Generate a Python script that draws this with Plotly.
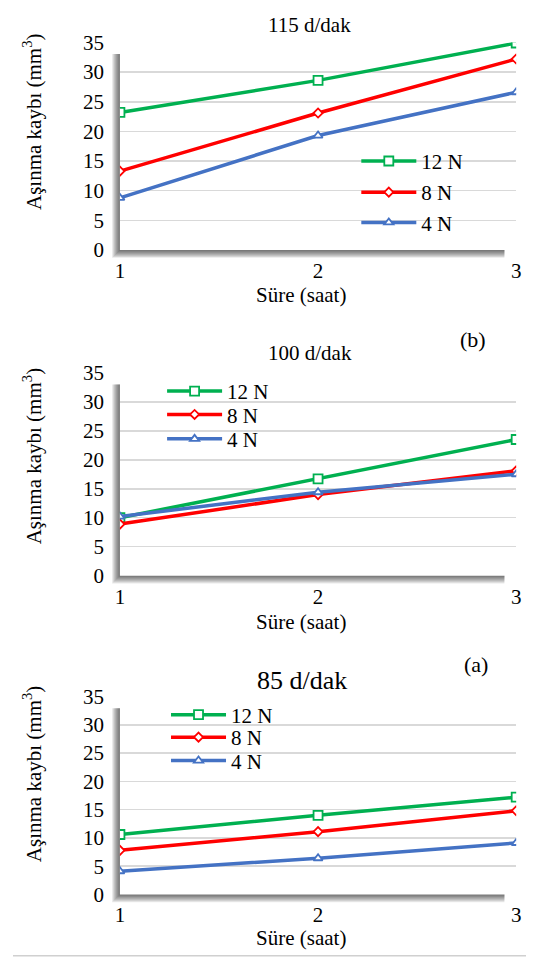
import plotly.graph_objects as go

# ---- data ----
sure = [1, 2, 3]
series_names = ["12 N", "8 N", "4 N"]

v115_12N = [23.2, 28.6, 34.9]
v115_8N = [13.3, 23.1, 32.2]
v115_4N = [8.8, 19.3, 26.6]

v100_12N = [10.0, 16.7, 23.5]
v100_8N = [8.9, 14.0, 18.1]
v100_4N = [10.2, 14.4, 17.5]

v85_12N = [10.6, 14.0, 17.2]
v85_8N = [7.8, 11.1, 14.8]
v85_4N = [4.1, 6.4, 9.1]

panel_titles = ["115 d/dak", "100 d/dak", "85 d/dak"]
y_ticks = [0, 5, 10, 15, 20, 25, 30, 35]
x_title = "Süre (saat)"
y_title = "Aşınma kaybı (mm<sup>3</sup>)"

# ---- styles ----
PAGE_W, PAGE_H = 539, 970
OFF = 8  # default body margin of the page
W, H = PAGE_W - 2 * OFF, PAGE_H - 2 * OFF
FONT = "Times New Roman, Liberation Serif, serif"
colors = ["#00B050", "#FF0000", "#4472C4"]
symbols = ["square", "diamond", "triangle-up"]
msizes = [9, 7, 8]


def px_x(p):
    return (p - OFF) / W


def px_y(p):
    return 1 - (p - OFF) / H


# plot areas in page pixels: (top, bottom)
panels = [(31, 244), (370, 578), (702, 905)]
x_left, x_right = 117, 521
# legend entry positions (page px): x of legend box, y centre of each entry
legend_x = [358, 160, 164]
legend_y = [[153, 185, 216], [389, 413, 438], [721, 744, 768]]

fig = go.Figure()
data = [
    [v115_12N, v115_8N, v115_4N],
    [v100_12N, v100_8N, v100_4N],
    [v85_12N, v85_8N, v85_4N],
]

layout = dict(
    width=W, height=H, margin=dict(l=0, r=0, t=0, b=0),
    paper_bgcolor="white", plot_bgcolor="white",
    font=dict(family=FONT, size=21, color="black"),
    showlegend=True,
)

n = 0
for pi, vals in enumerate(data):
    ax = "" if pi == 0 else str(pi + 1)
    for si, v in enumerate(vals):
        n += 1
        lid = "legend" if n == 1 else f"legend{n}"
        fig.add_trace(go.Scatter(
            x=sure, y=v, name=series_names[si], mode="lines+markers",
            line=dict(color=colors[si], width=3.5),
            marker=dict(symbol=symbols[si], size=msizes[si], color="white",
                        line=dict(color=colors[si], width=1.8)),
            xaxis="x" + ax, yaxis="y" + ax,
            legend=lid, hoverinfo="skip",
        ))
        layout[lid] = dict(
            bgcolor="rgba(0,0,0,0)", borderwidth=0, itemwidth=55,
            xanchor="left", yanchor="middle",
            x=px_x(legend_x[pi]), y=px_y(legend_y[pi][si]),
            font=dict(size=21, family=FONT, color="black"), itemclick=False,
        )

for pi, (top, bot) in enumerate(panels):
    ax = "" if pi == 0 else str(pi + 1)
    layout["xaxis" + ax] = dict(
        domain=[px_x(x_left), px_x(x_right)], range=[1, 3],
        tickvals=sure, ticktext=[str(s) for s in sure],
        showgrid=False, zeroline=False, showline=False, ticks="",
        ticklabelstandoff=6, tickfont=dict(size=21, family=FONT, color="black"),
        anchor="y" + ax, fixedrange=True,
    )
    layout["yaxis" + ax] = dict(
        domain=[px_y(bot), px_y(top)], range=[0, 35],
        tickvals=y_ticks, showgrid=True, gridcolor="#d9d9d9", gridwidth=1.5,
        zeroline=False, showline=False, ticks="", ticklabelstandoff=15,
        tickfont=dict(size=21, family=FONT, color="black"), anchor="x" + ax,
        fixedrange=True,
    )

fig.update_layout(**layout)

# shadows + white plot area
shapes = []
for pi, (top, bot) in enumerate(panels):
    ax = "" if pi == 0 else str(pi + 1)
    wpx = x_right - x_left
    hpx = bot - top
    for k in range(1, 9):
        shapes.append(dict(
            type="rect", xref=f"x{ax} domain", yref=f"y{ax} domain",
            x0=-k / wpx, x1=1 - 12 / wpx, y0=-k / hpx, y1=1 - 12 / hpx,
            fillcolor="rgba(0,0,0,0.085)", line=dict(width=0), layer="below"))
    shapes.append(dict(
        type="rect", xref=f"x{ax} domain", yref=f"y{ax} domain",
        x0=0, x1=1, y0=0, y1=1, fillcolor="white",
        line=dict(width=0), layer="below"))
shapes.append(dict(type="line", xref="paper", yref="paper", x0=0, x1=1,
                   y0=px_y(968), y1=px_y(968), line=dict(color="#d0d0d0", width=1.5)))
fig.update_layout(shapes=shapes)

annotations = []
title_pos = [(310, 13, 21), (311, 350, 21), (303, 686, 26)]
for (tx, ty, fs), t in zip(title_pos, panel_titles):
    annotations.append(dict(text=t, x=px_x(tx), y=px_y(ty), xref="paper", yref="paper",
                            showarrow=False, font=dict(size=fs, family=FONT),
                            xanchor="center", yanchor="middle"))
for ty in [290, 626, 950]:
    annotations.append(dict(text=x_title, x=px_x(302), y=px_y(ty), xref="paper", yref="paper",
                            showarrow=False, font=dict(size=21, family=FONT),
                            xanchor="center", yanchor="middle"))
for ty in [112, 455, 781]:
    annotations.append(dict(text=y_title, x=px_x(28), y=px_y(ty), xref="paper", yref="paper",
                            showarrow=False, textangle=-90, font=dict(size=21, family=FONT),
                            xanchor="center", yanchor="middle"))
annotations.append(dict(text="(b)", x=px_x(492), y=px_y(336), xref="paper", yref="paper",
                        showarrow=False, font=dict(size=22, family=FONT)))
annotations.append(dict(text="(a)", x=px_x(494), y=px_y(684), xref="paper", yref="paper",
                        showarrow=False, font=dict(size=22, family=FONT)))
fig.update_layout(annotations=annotations)

fig.write_html("out.html", config={"displayModeBar": False, "staticPlot": True})
